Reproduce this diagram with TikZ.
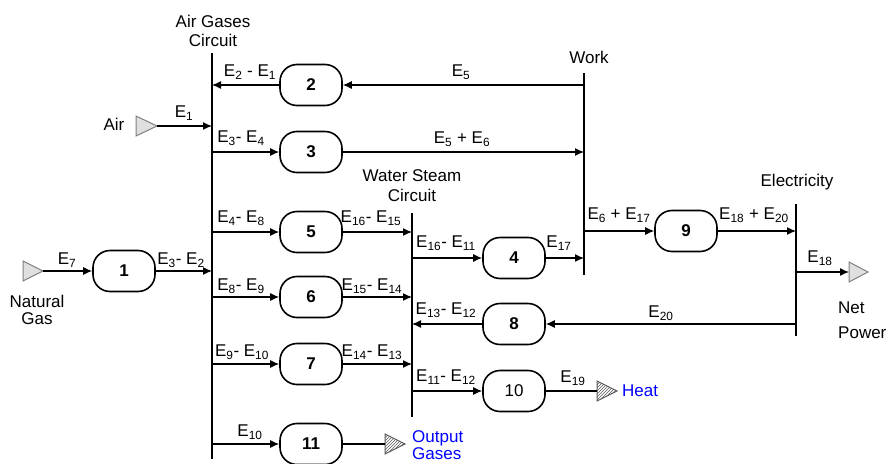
\documentclass[tikz,border=0pt]{standalone}
\usepackage{fontspec}
\setmainfont{Liberation Sans}
\usetikzlibrary{arrows.meta,patterns}
\newcommand{\Eq}[1]{E\textsubscript{#1}}
\begin{document}
\begin{tikzpicture}[x=1pt,y=-1pt,
  font=\fontsize{17}{20}\selectfont,
  proc/.style={draw,line width=1.6pt,rounded corners=17pt,minimum width=62pt,minimum height=41pt,fill=white,inner sep=0pt,font=\fontsize{17}{20}\selectfont\bfseries},
  flow/.style={line width=1.2pt,-{Latex[length=9pt,width=8pt]}},
  plain/.style={line width=1.2pt},
  bus/.style={line width=1.3pt},
  lbl/.style={inner sep=0pt},
  src/.style={draw=gray,fill=gray!25,line width=1pt},
  sink/.style={draw=gray!70!black,pattern=north east lines,pattern color=gray!70!black,line width=1pt},
  blu/.style={text=blue,align=left,inner sep=0pt,anchor=west}
]
\useasboundingbox (0,0) rectangle (888,463);

% buses
\coordinate (A1) at (212,53);  \coordinate (A2) at (212,459);
\coordinate (W1) at (584,73);  \coordinate (W2) at (584,275);
\coordinate (S1) at (412,213); \coordinate (S2) at (412,417);
\coordinate (L1) at (796,204); \coordinate (L2) at (796,336);
\draw[bus] (A1) -- (A2);
\draw[bus] (W1) -- (W2);
\draw[bus] (S1) -- (S2);
\draw[bus] (L1) -- (L2);

% processes
\node[proc] (n1) at (124,271) {1};
\node[proc] (n2) at (311,85) {2};
\node[proc] (n3) at (311,152) {3};
\node[proc] (n5) at (311,232) {5};
\node[proc] (n6) at (311,297) {6};
\node[proc] (n7) at (311,364) {7};
\node[proc] (n11) at (311,444) {11};
\node[proc] (n4) at (514,258) {4};
\node[proc] (n8) at (514,324) {8};
\node[proc,font=\fontsize{17}{20}\selectfont] (n10) at (514,391) {10};
\node[proc] (n9) at (686,231) {9};

% sources and sinks
\coordinate (airT) at (157,126);
\draw[src] (airT) -- ++(-21,-10) -- ++(0,20) -- cycle;
\coordinate (ngT) at (43,271);
\draw[src] (ngT) -- ++(-20,-10) -- ++(0,20) -- cycle;
\coordinate (netT) at (849,272);
\draw[src] (netT) ++(0,-10) -- ++(19,10) -- ++(-19,10) -- cycle;
\coordinate (outT) at (385,444);
\draw[sink] (outT) ++(0,-10) -- ++(20,10) -- ++(-20,10) -- cycle;
\coordinate (heatT) at (597,391);
\draw[sink] (heatT) ++(0,-10) -- ++(20,10) -- ++(-20,10) -- cycle;

% connectors
\draw[flow] (n2.west) -- (n2.west -| A1);
\draw[flow] (n2.east -| W1) -- (n2.east);
\draw[flow] (airT) -- (airT -| A1);
\draw[flow] (n3.west -| A1) -- (n3.west);
\draw[flow] (n3.east) -- (n3.east -| W1);
\draw[flow] (ngT) -- (n1.west);
\draw[flow] (n1.east) -- (n1.east -| A1);
\draw[flow] (n5.west -| A1) -- (n5.west);
\draw[flow] (n5.east) -- (n5.east -| S1);
\draw[flow] (n6.west -| A1) -- (n6.west);
\draw[flow] (n6.east) -- (n6.east -| S1);
\draw[flow] (n7.west -| A1) -- (n7.west);
\draw[flow] (n7.east) -- (n7.east -| S1);
\draw[flow] (n11.west -| A1) -- (n11.west);
\draw[plain] (n11.east) -- (outT);
\draw[flow] (n4.west -| S1) -- (n4.west);
\draw[flow] (n4.east) -- (n4.east -| W1);
\draw[flow] (n8.west) -- (n8.west -| S1);
\draw[flow] (n8.east -| L1) -- (n8.east);
\draw[flow] (n10.west -| S1) -- (n10.west);
\draw[plain] (n10.east) -- (heatT);
\draw[flow] (n9.west -| W1) -- (n9.west);
\draw[flow] (n9.east) -- (n9.east -| L1);
\draw[flow] (netT -| L1) -- (netT);

% titles
\node[align=center,inner sep=0pt,font=\fontsize{17}{19}\selectfont] (tAG) at (213,31) {Air Gases\\Circuit};
\node[inner sep=0pt] (tW) at (589,57) {Work};
\node[align=center,inner sep=0pt,font=\fontsize{17}{20}\selectfont] (tWS) at (412,186) {Water Steam\\Circuit};
\node[inner sep=0pt] (tEl) at (797,182) {Electricity};
\node[align=left,inner sep=0pt,anchor=west,font=\fontsize{17}{25}\selectfont] (tNP) at (838,320) {Net\\Power};
\node[align=center,inner sep=0pt,font=\fontsize{17}{17.5}\selectfont] (tNG) at (37,310) {Natural\\Gas};
\node[inner sep=0pt] (tAir) at (114,124) {Air};
\node[blu,font=\fontsize{17}{17}\selectfont] (tOut) at (412,445) {Output\\Gases};
\node[blu] (tHeat) at (622,391) {Heat};

% flow labels
\node[lbl] (e1) at (250,72) {\Eq{2} - \Eq{1}};
\node[lbl] (e2) at (461,72) {\Eq{5}};
\node[lbl] (e3) at (184,113) {\Eq{1}};
\node[lbl] (e4) at (241,138) {\Eq{3}- \Eq{4}};
\node[lbl] (e5) at (462,139) {\Eq{5} + \Eq{6}};
\node[lbl] (e6) at (67,260) {\Eq{7}};
\node[lbl] (e7) at (181,260) {\Eq{3}- \Eq{2}};
\node[lbl] (e8) at (241,218) {\Eq{4}- \Eq{8}};
\node[lbl] (e9) at (371,218) {\Eq{16}- \Eq{15}};
\node[lbl] (e10) at (241,286) {\Eq{8}- \Eq{9}};
\node[lbl] (e11) at (372,286) {\Eq{15}- \Eq{14}};
\node[lbl] (e12) at (242,352) {\Eq{9}- \Eq{10}};
\node[lbl] (e13) at (372,352) {\Eq{14}- \Eq{13}};
\node[lbl] (e14) at (250,432) {\Eq{10}};
\node[lbl] (e15) at (446,243) {\Eq{16}- \Eq{11}};
\node[lbl] (e16) at (559,243) {\Eq{17}};
\node[lbl] (e17) at (446,310) {\Eq{13}- \Eq{12}};
\node[lbl] (e18) at (446,377) {\Eq{11}- \Eq{12}};
\node[lbl] (e19) at (573,378) {\Eq{19}};
\node[lbl] (e20) at (619,215) {\Eq{6} + \Eq{17}};
\node[lbl] (e21) at (754,215) {\Eq{18} + \Eq{20}};
\node[lbl] (e22) at (820,258) {\Eq{18}};
\node[lbl] (e23) at (661,313) {\Eq{20}};
\end{tikzpicture}
\end{document}
